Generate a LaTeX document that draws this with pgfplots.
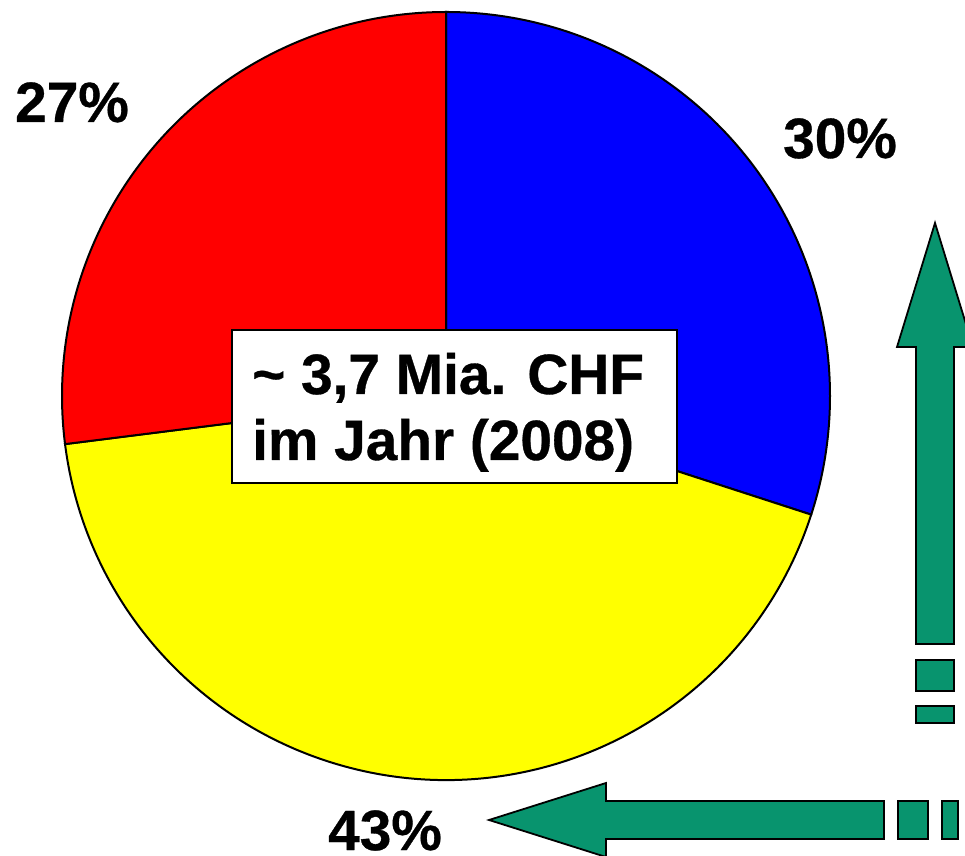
\documentclass[border=0pt]{standalone}
\usepackage{fontspec}
\setmainfont{Liberation Sans}[BoldFeatures={FakeBold=0.6}]
\usepackage{pgfplots}
\pgfplotsset{compat=1.18}
\definecolor{pblue}{RGB}{0,0,255}
\definecolor{pred}{RGB}{255,0,0}
\definecolor{pyellow}{RGB}{255,255,0}
\definecolor{teal}{RGB}{8,148,110}
% shares in percent
\def\shareBlue{30}
\def\shareYellow{43}
\def\shareRed{27}
\begin{document}
\begin{tikzpicture}
\begin{axis}[
  width=965bp, height=856bp, scale only axis,
  xmin=0, xmax=965, ymin=0, ymax=856,
  hide axis, clip=true,
]
% pie centre (446,460), radius 384
\pgfmathsetmacro{\aA}{90}
\pgfmathsetmacro{\aB}{90-\shareBlue*3.6}
\pgfmathsetmacro{\aC}{\aB-\shareYellow*3.6}
\pgfmathsetmacro{\aD}{\aC-\shareRed*3.6}
\filldraw[fill=pblue, draw=black, line width=2bp] (axis cs:446,460) -- +(\aA:384bp) arc[start angle=\aA, end angle=\aB, radius=384bp] -- cycle;
\filldraw[fill=pyellow, draw=black, line width=2bp] (axis cs:446,460) -- +(\aB:384bp) arc[start angle=\aB, end angle=\aC, radius=384bp] -- cycle;
\filldraw[fill=pred, draw=black, line width=2bp] (axis cs:446,460) -- +(\aC:384bp) arc[start angle=\aC, end angle=\aD, radius=384bp] -- cycle;
% centre box
\filldraw[fill=white, draw=black, line width=1.8bp] (axis cs:232,373) rectangle (axis cs:677,526);
\node[anchor=base west, inner sep=0pt, font=\fontsize{57}{66}\selectfont\bfseries] at (axis cs:252,462) {\char`~\ 3,7 Mia. CHF};
\node[anchor=base west, inner sep=0pt, font=\fontsize{57}{66}\selectfont\bfseries] at (axis cs:252,396) {im Jahr (2008)};
% percent labels
\node[anchor=base west, inner sep=0pt, font=\fontsize{57}{66}\selectfont\bfseries] at (axis cs:15,734) {\shareRed\%};
\node[anchor=base west, inner sep=0pt, font=\fontsize{57}{66}\selectfont\bfseries] at (axis cs:783,698) {\shareBlue\%};
\node[anchor=base west, inner sep=0pt, font=\fontsize{57}{66}\selectfont\bfseries] at (axis cs:328,6) {\shareYellow\%};
% vertical arrow
\filldraw[fill=teal, draw=black, line width=1.8bp] (axis cs:916,212) -- (axis cs:916,509) -- (axis cs:897,509) -- (axis cs:935,633) -- (axis cs:973,509) -- (axis cs:954,509) -- (axis cs:954,212) -- cycle;
\filldraw[fill=teal, draw=black, line width=1.8bp] (axis cs:916,165) rectangle (axis cs:954,196);
\filldraw[fill=teal, draw=black, line width=1.8bp] (axis cs:916,133) rectangle (axis cs:954,150);
% horizontal arrow
\filldraw[fill=teal, draw=black, line width=1.8bp] (axis cs:884,55) -- (axis cs:606,55) -- (axis cs:606,73) -- (axis cs:489,36) -- (axis cs:606,-1) -- (axis cs:606,17) -- (axis cs:884,17) -- cycle;
\filldraw[fill=teal, draw=black, line width=1.8bp] (axis cs:898,17) rectangle (axis cs:928,55);
\filldraw[fill=teal, draw=black, line width=1.8bp] (axis cs:942,17) rectangle (axis cs:958,55);
\end{axis}
\pgfresetboundingbox
\path[use as bounding box] (current axis.south west) rectangle (current axis.north east);
\end{tikzpicture}
\end{document}
